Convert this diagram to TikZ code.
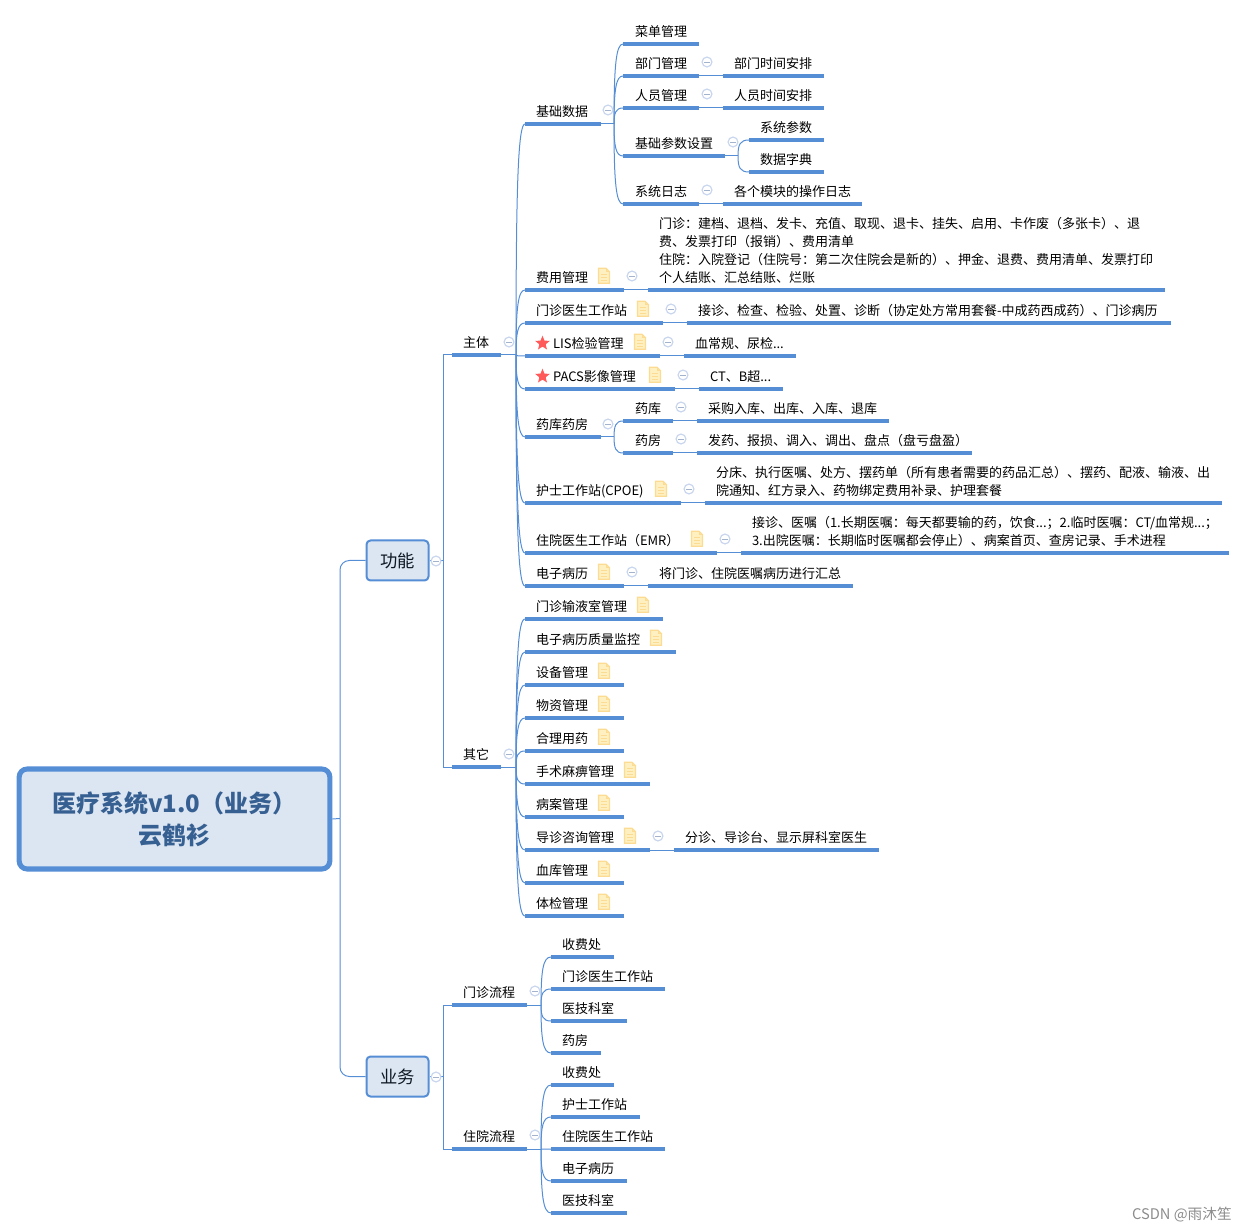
\documentclass[tikz,border=0pt]{standalone}
\usepackage{fontspec}
\setmainfont{Noto Sans CJK SC}
\usetikzlibrary{shapes,calc}

\definecolor{barblue}{HTML}{558ED5}
\definecolor{rootfill}{HTML}{DCE6F2}
\definecolor{roottext}{HTML}{376092}
\definecolor{foldblue}{HTML}{C9D6EE}
\definecolor{minusblue}{HTML}{A3B3CE}
\definecolor{noteline}{HTML}{FBDC92}
\definecolor{notefill}{HTML}{FFF0C2}

\tikzset{
  bar/.style={fill=barblue,inner sep=0pt,outer sep=0pt,minimum height=2.3pt,anchor=west},
  topictext/.style={anchor=south west,inner sep=0pt,outer sep=0pt,align=left,text depth=2.4pt,
    font=\fontsize{9.75}{13.5}\selectfont},
  link/.style={draw=barblue,line width=0.75pt},
  rootbox/.style={draw=barblue,line width=3.8pt,fill=rootfill,rounded corners=6pt,
    minimum width=233pt,minimum height=75pt,text=roottext,align=center,
    font=\fontsize{18}{24}\selectfont\bfseries},
  mainbox/.style={draw=barblue,line width=1.5pt,fill=rootfill,rounded corners=3pt,
    minimum width=46.5pt,minimum height=30pt,text=black!75!roottext,font=\fontsize{13}{16}\selectfont},
  foldmark/.style={circle,draw=foldblue,line width=0.9pt,fill=white,inner sep=0pt,minimum size=7.4pt,
    path picture={\draw[minusblue,line width=0.7pt]
      ([xshift=-2.2pt]path picture bounding box.center) -- ([xshift=2.2pt]path picture bounding box.center);}},
  redstar/.style={star,star points=5,star point ratio=2.3,fill=red!65!white,inner sep=0pt,minimum size=11.5pt},
  pics/notemark/.style={code={
    \filldraw[draw=noteline,fill=notefill,line width=0.9pt]
      (-5.5,-7.5) -- (2,-7.5) -- (5.5,-4) -- (5.5,7.5) -- (-5.5,7.5) -- cycle;
    \draw[noteline,line width=0.75pt] (2,-7.5) -- (2,-4) -- (5.5,-4);
    \foreach \ly in {-1,2,5} \draw[noteline,line width=1.1pt] (-3,\ly) -- (3,\ly);
  }}
}

% bar with its text: [indent] name, left, right, y, text
\newcommand{\topic}[5][11]{
  \node[bar,minimum width={(#4-#3)*0.75pt}] (#2) at (#3,#5) {};
  \node[topictext] (#2t) at (#3+#1,#5-4) {\topictxt};
}
\newcommand{\topictxt}{}
\newcommand{\leaf}[6][11]{
  \renewcommand{\topictxt}{#6}
  \topic[#1]{#2}{#3}{#4}{#5}
}
% curved links from a bar to the bars of its children
\newcommand{\branch}[3]{
  \coordinate (fk) at ($(#1.east)+(#2,0)$);
  \draw[link] (#1.east) -- (fk);
  \foreach \kid in {#3}
    \draw[link] (fk) .. controls ($(fk)!.72!(fk|-\kid.west)$) and ($(fk|-\kid.west)+(2,0)$) .. (\kid.west);
}

\begin{document}
\begin{tikzpicture}[x=0.75pt,y=-0.75pt]
  \useasboundingbox (0,0) rectangle (1247,1230);

  % centre and main topics
  \node[rootbox] (root) at (174.5,819) {医疗系统v1.0（业务）\\云鹤衫};
  \node[mainbox] (func) at (397.5,560.5) {功能};
  \node[mainbox] (work) at (397.5,1076.5) {业务};
  \coordinate (rootfk) at (340,818.5);
  \draw[link] (root.east) -- (rootfk);
  \draw[link,rounded corners=7pt] (rootfk) -- (rootfk|-func.west) -- (func.west);
  \draw[link,rounded corners=7pt] (rootfk) -- (rootfk|-work.west) -- (work.west);

  % second level
  \leaf{main}{452}{501}{355}{主体}
  \leaf{other}{452}{501}{767}{其它}
  \leaf{opflow}{452}{527}{1005}{门诊流程}
  \leaf{inflow}{452}{527}{1149}{住院流程}
  \coordinate (funcfk) at (443,560.5);
  \draw[link] (func.east) -- (funcfk);
  \draw[link] (funcfk) -- (funcfk|-main.west) -- (main.west);
  \draw[link] (funcfk) -- (funcfk|-other.west) -- (other.west);
  \coordinate (workfk) at (443,1076.5);
  \draw[link] (work.east) -- (workfk);
  \draw[link] (workfk) -- (workfk|-opflow.west) -- (opflow.west);
  \draw[link] (workfk) -- (workfk|-inflow.west) -- (inflow.west);

  % main
  \leaf{base}{525}{601}{124}{基础数据}
  \leaf{fee}{525}{624}{290}{费用管理}
  \leaf{opdoc}{525}{663}{323}{门诊医生工作站}
  \leaf[28]{lis}{525}{660}{356}{LIS检验管理}
  \leaf[28]{pacs}{525}{675}{389}{PACS影像管理}
  \leaf{drug}{525}{601}{437}{药库药房}
  \leaf{nurse}{525}{681}{503}{护士工作站(CPOE)}
  \leaf{indoc}{525}{717}{553}{住院医生工作站（EMR）}
  \leaf{emr}{525}{624}{586}{电子病历}
  \branch{main}{15}{base,fee,opdoc,lis,pacs,drug,nurse,indoc,emr}

  \leaf[12]{menu}{623}{699}{44}{菜单管理}
  \leaf[12]{dept}{623}{699}{76}{部门管理}
  \leaf[12]{staff}{623}{699}{108}{人员管理}
  \leaf[12]{param}{623}{725}{156}{基础参数设置}
  \leaf[12]{log}{623}{699}{204}{系统日志}
  \branch{base}{13}{menu,dept,staff,param,log}
  \leaf{depttime}{723}{824}{76}{部门时间安排}
  \leaf{stafftime}{723}{824}{108}{人员时间安排}
  \leaf{sysparam}{749}{824}{140}{系统参数}
  \leaf{dict}{749}{824}{172}{数据字典}
  \leaf{oplog}{723}{862}{204}{各个模块的操作日志}
  \draw[link] (dept.east) -- (depttime.west);
  \draw[link] (staff.east) -- (stafftime.west);
  \branch{param}{13}{sysparam,dict}
  \draw[link] (log.east) -- (oplog.west);

  \leaf{feenote}{648}{1165}{290}{门诊：建档、退档、发卡、充值、取现、退卡、挂失、启用、卡作废（多张卡）、退\\费、发票打印（报销）、费用清单\\住院：入院登记（住院号：第二次住院会是新的）、押金、退费、费用清单、发票打印\\个人结账、汇总结账、烂账}
  \draw[link] (fee.east) -- (feenote.west);
  \leaf{opdocnote}{687}{1171}{323}{接诊、检查、检验、处置、诊断（协定处方常用套餐-中成药西成药）、门诊病历}
  \draw[link] (opdoc.east) -- (opdocnote.west);
  \leaf{lisnote}{684}{796}{356}{血常规、尿检...}
  \draw[link] (lis.east) -- (lisnote.west);
  \leaf{pacsnote}{699}{783}{389}{CT、B超...}
  \draw[link] (pacs.east) -- (pacsnote.west);

  \leaf[12]{store}{623}{673}{421}{药库}
  \leaf[12]{pharm}{623}{673}{453}{药房}
  \branch{drug}{13}{store,pharm}
  \leaf{storenote}{697}{889}{421}{采购入库、出库、入库、退库}
  \leaf{pharmnote}{697}{972}{453}{发药、报损、调入、调出、盘点（盘亏盘盈）}
  \draw[link] (store.east) -- (storenote.west);
  \draw[link] (pharm.east) -- (pharmnote.west);

  \leaf{nursenote}{705}{1222}{503}{分床、执行医嘱、处方、摆药单（所有患者需要的药品汇总）、摆药、配液、输液、出\\院通知、红方录入、药物绑定费用补录、护理套餐}
  \draw[link] (nurse.east) -- (nursenote.west);
  \leaf{indocnote}{741}{1229}{553}{接诊、医嘱（1.长期医嘱：每天都要输的药，饮食...；2.临时医嘱：CT/血常规...；\\3.出院医嘱：长期临时医嘱都会停止）、病案首页、查房记录、手术进程}
  \draw[link] (indoc.east) -- (indocnote.west);
  \leaf{emrnote}{648}{853}{586}{将门诊、住院医嘱病历进行汇总}
  \draw[link] (emr.east) -- (emrnote.west);

  % other
  \leaf{infuse}{525}{663}{619}{门诊输液室管理}
  \leaf{quality}{525}{676}{652}{电子病历质量监控}
  \leaf{equip}{525}{624}{685}{设备管理}
  \leaf{goods}{525}{624}{718}{物资管理}
  \leaf{rational}{525}{624}{751}{合理用药}
  \leaf{anes}{525}{650}{784}{手术麻痹管理}
  \leaf{record}{525}{624}{817}{病案管理}
  \leaf{guide}{525}{650}{850}{导诊咨询管理}
  \leaf{blood}{525}{624}{883}{血库管理}
  \leaf{exam}{525}{624}{916}{体检管理}
  \branch{other}{15}{infuse,quality,equip,goods,rational,anes,record,guide,blood,exam}
  \leaf{guidenote}{674}{879}{850}{分诊、导诊台、显示屏科室医生}
  \draw[link] (guide.east) -- (guidenote.west);

  % flows
  \leaf{opa}{551}{614}{957}{收费处}
  \leaf{opb}{551}{665}{989}{门诊医生工作站}
  \leaf{opc}{551}{627}{1021}{医技科室}
  \leaf{opd}{551}{601}{1053}{药房}
  \branch{opflow}{14}{opa,opb,opc,opd}
  \leaf{ina}{551}{614}{1085}{收费处}
  \leaf{inb}{551}{640}{1117}{护士工作站}
  \leaf{inc}{551}{665}{1149}{住院医生工作站}
  \leaf{ind}{551}{627}{1181}{电子病历}
  \leaf{ine}{551}{627}{1213}{医技科室}
  \branch{inflow}{14}{ina,inb,inc,ind,ine}

  % markers
  \foreach \fx/\fy [count=\i] in {436/561,436/1077,509/342,509/754,535/991,535/1135,
      608/110,632/276,671/309,668/342,683/375,608/424,689/489,725/539,632/572,
      707/62,707/94,733/142,707/190,681/407,681/439,658/836}
    \node[foldmark] (fold\i) at (\fx,\fy) {};
  \foreach \nx/\ny in {604/276,643/309,640/342,655/375,661/489,697/539,604/572,
      643/605,656/638,604/671,604/704,604/737,630/770,604/803,630/836,604/869,604/902}
    \pic at (\nx,\ny-0.3) {notemark};
  \node[redstar] (starlis) at (542.5,343.3) {};
  \node[redstar] (starpacs) at (542.5,376.3) {};

  \node[anchor=east,inner sep=0pt,text=black!45,font=\fontsize{11}{13}\selectfont] (mark) at (1232,1215) {CSDN @雨沐笙};
\end{tikzpicture}
\end{document}
